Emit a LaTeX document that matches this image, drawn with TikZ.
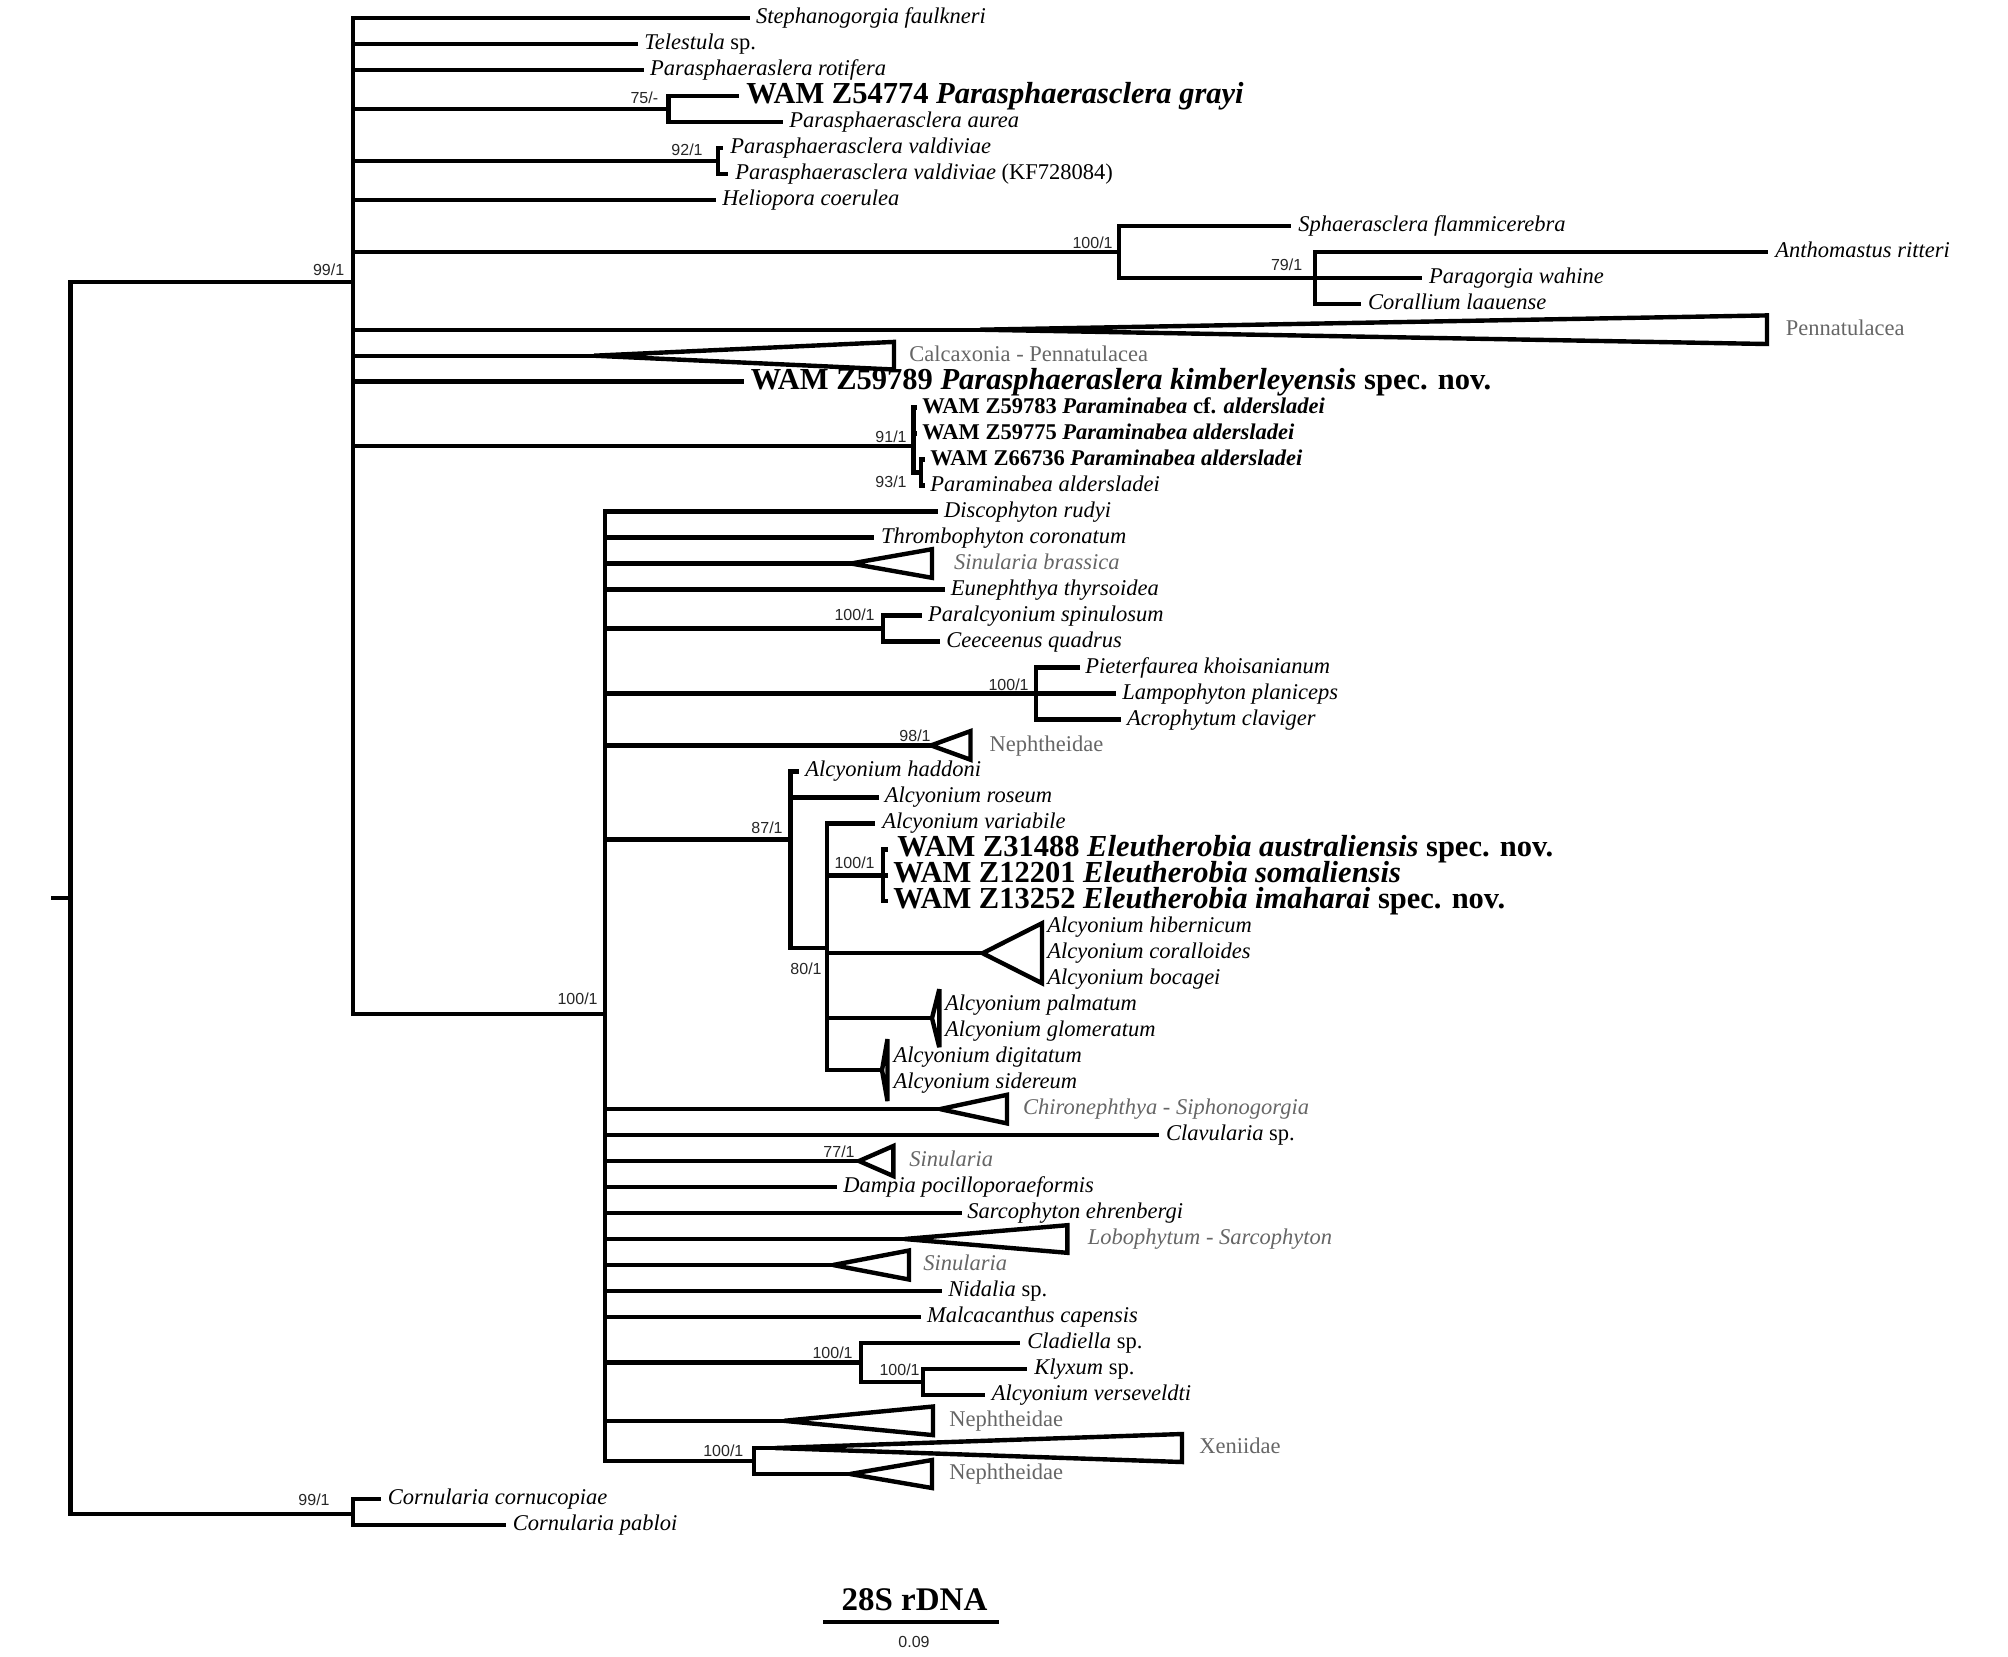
\documentclass[tikz,border=0pt]{standalone}
\usepackage{fontspec}
\setmainfont{Liberation Serif}
\setsansfont{Liberation Sans}
\newcommand{\mytip}[7][lab]{%
  \coordinate (#2) at (#4,#5);
  \draw[br] (#3 |- #2) -- (#2);
  \node[#1] (#2l) at (#6,#5) {#7};}
\newcommand{\myint}[4]{%
  \coordinate (#1) at (#3,#4);
  \draw[br] (#2 |- #1) -- (#1);}
\newcommand{\myvert}[3]{\draw[br] (#1 |- #2) -- (#1 |- #3);}
\newcommand{\myclade}[6]{%
  \coordinate (#1) at (#3,#5);
  \draw[br] (#2 |- #1) -- (#1);
  \draw[br,line join=miter,miter limit=3] (#1) -- ({#4},{#5-#6}) -- ({#4},{#5+#6}) -- cycle;}
\begin{document}
\begin{tikzpicture}[x=0.5pt,y=-0.5pt,
  br/.style={line width=2.2pt, line cap=rect},
  lab/.style={anchor=west, inner sep=0pt, font=\fontsize{11.25}{13}\selectfont, text height=7.9pt, text depth=2.25pt},
  labbig/.style={anchor=west, inner sep=0pt, font=\fontsize{15.25}{18}\selectfont\bfseries, text height=9.9pt, text depth=2.3pt},
  labgray/.style={lab, text=black!60},
  sup/.style={anchor=east, inner sep=0pt, font=\sffamily\fontsize{8}{9}\selectfont, text height=5.8pt, text depth=0pt, text=black!85}]
\useasboundingbox (0,0) rectangle (2008,1656);
% root
\coordinate (R) at (70.5,898);
\coordinate (R0) at (53.6,898);
\draw[br] (R0) -- (R);
\myint{A}{R}{352.7}{282}
\myint{C}{R}{352.7}{1514}
\myvert{R}{A}{C}
% ---- clade A
\mytip{t1}{A}{747.3}{17.9}{755.8}{\textit{Stephanogorgia faulkneri}}
\mytip{t2}{A}{636}{43.9}{644}{\textit{Telestula} sp.}
\mytip{t3}{A}{641.5}{69.9}{649.6}{\textit{Parasphaeraslera rotifera}}
\myint{G}{A}{668.3}{108.8}
\mytip[labbig]{t4}{G}{737}{95.8}{746}{WAM Z54774 \textit{Parasphaerasclera grayi}}
\mytip{t5}{G}{780.8}{121.8}{789}{\textit{Parasphaerasclera aurea}}
\myvert{G}{t4}{t5}
\myint{V}{A}{717.9}{160.8}
\mytip{t6}{V}{721}{147.8}{730}{\textit{Parasphaerasclera valdiviae}}
\mytip{t7}{V}{726}{173.8}{735}{\textit{Parasphaerasclera valdiviae} (KF728084)}
\myvert{V}{t6}{t7}
\mytip{t8}{A}{713.8}{199.8}{722}{\textit{Heliopora coerulea}}
\myint{S}{A}{1118.75}{251.7}
\mytip{t9}{S}{1289}{225.7}{1298}{\textit{Sphaerasclera flammicerebra}}
\myint{P79}{S}{1315}{277.7}
\mytip{t10}{P79}{1766}{251.7}{1775}{\textit{Anthomastus ritteri}}
\mytip{t11}{P79}{1419.7}{277.7}{1428.7}{\textit{Paragorgia wahine}}
\mytip{t12}{P79}{1358.7}{303.7}{1367.7}{\textit{Corallium laauense}}
\myvert{P79}{t10}{t12}
\myvert{S}{t9}{P79}
\myclade{c13}{A}{980}{1767}{329.7}{14.3}
\node[labgray] (c13l) at (1785.4,329.7) {Pennatulacea};
\myclade{c14}{A}{594}{894}{355.7}{13.8}
\node[labgray] (c14l) at (909,355.7) {Calcaxonia - Pennatulacea};
\mytip[labbig]{t15}{A}{741.5}{381.6}{750.4}{WAM Z59789 \textit{Parasphaeraslera kimberleyensis} spec. nov.}
\myint{P91}{A}{913.3}{446}
\mytip{t16}{P91}{915}{407.6}{922}{\bfseries WAM Z59783 \textit{Paraminabea} cf. \textit{aldersladei}}
\mytip{t17}{P91}{915}{433.6}{922}{\bfseries WAM Z59775 \textit{Paraminabea aldersladei}}
\myint{P93}{P91}{921}{472.6}
\mytip{t18}{P93}{923}{459.6}{930}{\bfseries WAM Z66736 \textit{Paraminabea aldersladei}}
\mytip{t19}{P93}{923}{485.6}{930}{\textit{Paraminabea aldersladei}}
\myvert{P93}{t18}{t19}
\myvert{P91}{t16}{P93}
\myint{B}{A}{605}{1014}
\myvert{A}{t1}{B}
% ---- clade B
\mytip{t20}{B}{935.7}{511.5}{943.8}{\textit{Discophyton rudyi}}
\mytip{t21}{B}{871.9}{537.5}{880.8}{\textit{Thrombophyton coronatum}}
\myclade{c22}{B}{851}{932}{563.5}{14.3}
\node[labgray] (c22l) at (953.6,563.5) {\textit{Sinularia brassica}};
\mytip{t23}{B}{942.4}{589.5}{950.4}{\textit{Eunephthya thyrsoidea}}
\myint{P24}{B}{883}{628.5}
\mytip{t24}{P24}{920}{615.5}{927.7}{\textit{Paralcyonium spinulosum}}
\mytip{t25}{P24}{938}{641.4}{946}{\textit{Ceeceenus quadrus}}
\myvert{P24}{t24}{t25}
\myint{P26}{B}{1036}{693.4}
\mytip{t26}{P26}{1077.7}{667.4}{1085}{\textit{Pieterfaurea khoisanianum}}
\mytip{t27}{P26}{1114}{693.4}{1122}{\textit{Lampophyton planiceps}}
\mytip{t28}{P26}{1118.75}{719.4}{1126.8}{\textit{Acrophytum claviger}}
\myvert{P26}{t26}{t28}
\myclade{c29}{B}{931}{970.5}{745.4}{14.3}
\node[labgray] (c29l) at (989.3,745.4) {Nephtheidae};
\myint{P87}{B}{790.6}{839.5}
\mytip{t30}{P87}{797}{771.3}{805}{\textit{Alcyonium haddoni}}
\mytip{t31}{P87}{876.8}{797.3}{884.4}{\textit{Alcyonium roseum}}
\myint{P80}{P87}{827.2}{948}
\mytip{t32}{P80}{873}{823.3}{882}{\textit{Alcyonium variabile}}
\myint{PE}{P80}{883}{875.3}
\mytip[labbig]{t33}{PE}{886}{849.3}{897}{WAM Z31488 \textit{Eleutherobia australiensis} spec. nov.}
\mytip[labbig]{t34}{PE}{886}{875.3}{893}{WAM Z12201 \textit{Eleutherobia somaliensis}}
\mytip[labbig]{t35}{PE}{886}{901.2}{893}{WAM Z13252 \textit{Eleutherobia imaharai} spec. nov.}
\myvert{PE}{t33}{t35}
\myclade{c36}{P80}{982.6}{1042}{953.2}{30}
\node[lab] (h36) at (1047,927.2) {\textit{Alcyonium hibernicum}};
\node[lab] (h37) at (1047,953.2) {\textit{Alcyonium coralloides}};
\node[lab] (h38) at (1047,979.2) {\textit{Alcyonium bocagei}};
\myclade{c39}{P80}{932}{939.3}{1018.2}{29}
\node[lab] (h39) at (944.6,1005.2) {\textit{Alcyonium palmatum}};
\node[lab] (h40) at (944.6,1031.1) {\textit{Alcyonium glomeratum}};
\myclade{c41}{P80}{882}{887.5}{1070.1}{31}
\node[lab] (h41) at (893.3,1057.1) {\textit{Alcyonium digitatum}};
\node[lab] (h42) at (893.3,1083.1) {\textit{Alcyonium sidereum}};
\myvert{P80}{t32}{c41}
\myvert{P87}{t30}{P80}
\myclade{c43}{B}{940}{1007}{1109.1}{14.3}
\node[labgray] (c43l) at (1022.8,1109.1) {\textit{Chironephthya - Siphonogorgia}};
\mytip{t44}{B}{1156.7}{1135.1}{1165.6}{\textit{Clavularia} sp.}
\myclade{c45}{B}{859}{893.3}{1161}{15}
\node[labgray] (c45l) at (909,1161) {\textit{Sinularia}};
\mytip{t46}{B}{835}{1187}{842.9}{\textit{Dampia pocilloporaeformis}}
\mytip{t47}{B}{959.4}{1213}{967}{\textit{Sarcophyton ehrenbergi}}
\myclade{c48}{B}{904.5}{1067.4}{1239}{13.8}
\node[labgray] (c48l) at (1087.5,1239) {\textit{Lobophytum - Sarcophyton}};
\myclade{c49}{B}{833}{909}{1265}{14.5}
\node[labgray] (c49l) at (923,1265) {\textit{Sinularia}};
\mytip{t50}{B}{940}{1290.9}{948}{\textit{Nidalia} sp.}
\mytip{t51}{B}{918.75}{1316.9}{926.8}{\textit{Malcacanthus capensis}}
\myint{P52}{B}{860.7}{1362.4}
\mytip{t52}{P52}{1018}{1342.9}{1027}{\textit{Cladiella} sp.}
\myint{P53}{P52}{923}{1381.9}
\mytip{t53}{P53}{1025}{1368.9}{1034}{\textit{Klyxum} sp.}
\mytip{t54}{P53}{982.6}{1394.9}{991.5}{\textit{Alcyonium verseveldti}}
\myvert{P53}{t53}{t54}
\myvert{P52}{t52}{P53}
\myclade{c55}{B}{784}{933}{1420.8}{14.3}
\node[labgray] (c55l) at (949,1420.8) {Nephtheidae};
\myint{PX}{B}{754}{1461}
\myclade{c56}{PX}{775}{1182}{1448}{14}
\node[labgray] (c56l) at (1199,1448) {Xeniidae};
\myclade{c57}{PX}{850}{932}{1474}{14}
\node[labgray] (c57l) at (949,1474) {Nephtheidae};
\myvert{PX}{c56}{c57}
\myvert{B}{t20}{PX}
% ---- clade C
\mytip{t58}{C}{378.6}{1498.8}{387.5}{\textit{Cornularia cornucopiae}}
\mytip{t59}{C}{503.6}{1524.8}{512.5}{\textit{Cornularia pabloi}}
\myvert{C}{t58}{t59}
% ---- support values
\node[sup] (s1) at (344.6,269.6) {99/1};
\node[sup] (s2) at (658.5,98) {75/-};
\node[sup] (s3) at (703,150) {92/1};
\node[sup] (s4) at (1113,243) {100/1};
\node[sup] (s5) at (1302.6,265) {79/1};
\node[sup] (s6) at (907,437) {91/1};
\node[sup] (s7) at (907,482) {93/1};
\node[sup] (s8) at (598,999) {100/1};
\node[sup] (s9) at (875,615) {100/1};
\node[sup] (s10) at (1029,684.6) {100/1};
\node[sup] (s11) at (931,736) {98/1};
\node[sup] (s12) at (783,827.5) {87/1};
\node[sup] (s13) at (822,968.6) {80/1};
\node[sup] (s14) at (875,863) {100/1};
\node[sup] (s15) at (855,1151.6) {77/1};
\node[sup] (s16) at (853,1352.6) {100/1};
\node[sup] (s17) at (920,1370) {100/1};
\node[sup] (s18) at (743.75,1451) {100/1};
\node[sup] (s19) at (330,1500) {99/1};
% ---- scale bar
\node[inner sep=0pt, font=\fontsize{16.5}{19}\selectfont\bfseries] (sbt) at (914.5,1600) {28S rDNA};
\coordinate (sb1) at (823,1622);
\coordinate (sb2) at (999,1622);
\draw[line width=2.4pt] (sb1) -- (sb2);
\node[sup, anchor=center] (sbn) at (914,1642) {0.09};
\end{tikzpicture}
\end{document}
